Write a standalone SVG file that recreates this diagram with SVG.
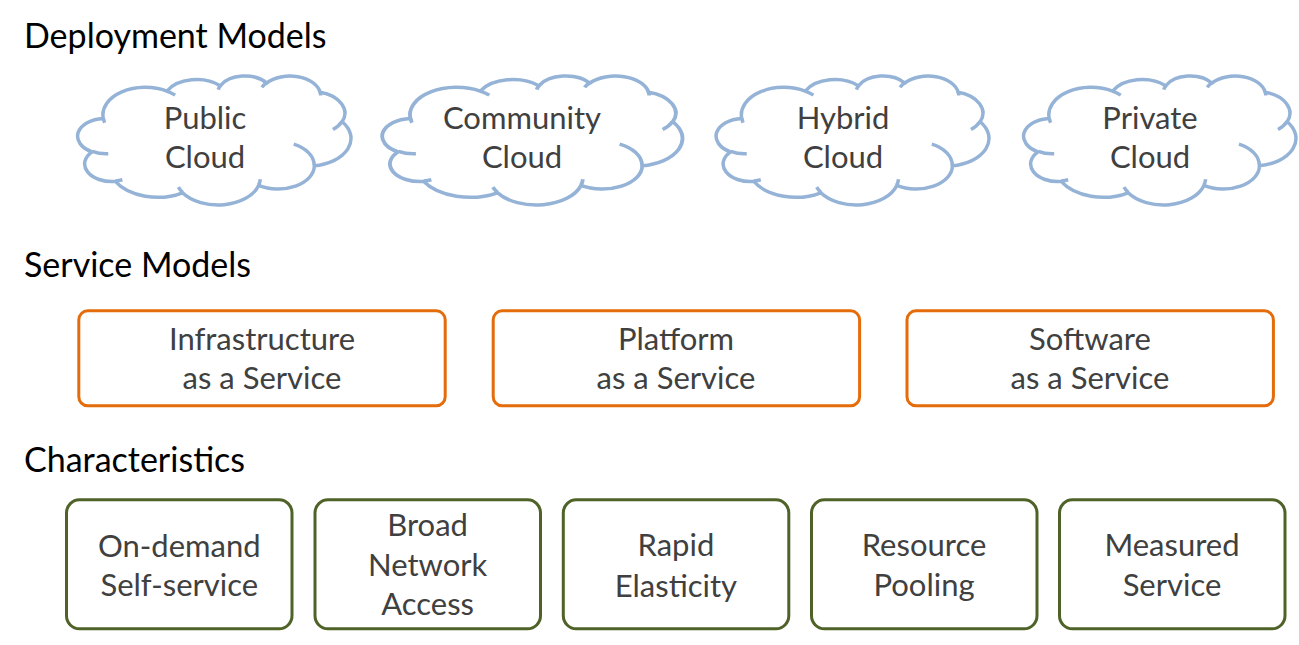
<svg xmlns="http://www.w3.org/2000/svg" xmlns:xlink="http://www.w3.org/1999/xlink" width="1299" height="645" viewBox="0 0 1299 645">
<style>
.title{font-family:Lato,"Open Sans","Liberation Sans",sans-serif;font-size:34px;fill:#000000}
.lbl{font-family:Lato,"Open Sans","Liberation Sans",sans-serif;font-size:31px;fill:#404040;text-anchor:middle}
.cloud{fill:#FFFFFF;stroke:#95B3D7;stroke-width:3.5}
.cloudIn{fill:none;stroke:#95B3D7;stroke-width:3.5}
.svc{fill:#FFFFFF;stroke:#E46C0A;stroke-width:3}
.chr{fill:#FFFFFF;stroke:#4F6228;stroke-width:3}
</style>
<defs>
<path id="cloudMain" d="M24.571 42.893A42.546 27.431 0 0 1 88.223 15.521A33.6 21.691 0 0 1 141.448 10.232A27.501 17.745 0 0 1 187.925 7.391A30.601 19.685 0 0 1 241.383 16.632A33.6 21.709 0 0 1 263.441 46.135A42.685 27.521 0 0 1 235.637 90.147A36.447 23.482 0 0 1 179.88 109.874A42.54 27.506 0 0 1 103.797 117.19A48.638 31.47 0 0 1 36.586 105.866A27.469 17.665 0 0 1 13.319 76.255A27.375 17.745 0 0 1 24.571 42.893Z"/>
<path id="cloudInner" d="M29.567 78.136A27.375 17.745 0 0 1 13.602 75.757M43.649 104.17A27.469 17.665 0 0 1 36.674 105.307M103.816 116.68A42.54 27.506 0 0 1 99.608 111.489M181.619 103.728A42.54 27.506 0 0 1 179.937 109.426M215.023 68.515A36.447 23.482 0 0 1 235.48 89.807M263.34 45.83A33.6 21.709 0 0 1 254.211 53.821M241.453 16.196A30.601 19.685 0 0 1 241.932 19.966M183.2 11.796A30.601 19.685 0 0 1 187.875 6.985M139.495 14.089A27.501 17.745 0 0 1 141.757 9.937M88.204 15.498A42.546 27.431 0 0 1 96.407 19.527M26.001 47.129A42.546 27.431 0 0 1 24.571 42.893"/>
</defs>

<g id="titles">
<text class="title" x="24" y="48">Deployment Models</text>
<text class="title" x="24" y="277">Service Models</text>
<text class="title" x="24" y="472">Characteristics</text>
</g>

<g id="connectors"></g>

<g id="public-cloud">
<g transform="translate(78.72 75.59)">
<use xlink:href="#cloudMain" class="cloud"/>
<use xlink:href="#cloudInner" class="cloudIn"/>
</g>
<text class="lbl" x="205" y="129">Public</text>
<text class="lbl" x="205" y="168">Cloud</text>
</g>

<g id="community-cloud">
<g transform="translate(383.44 75.59) scale(1.0983 1)">
<use xlink:href="#cloudMain" class="cloud"/>
<use xlink:href="#cloudInner" class="cloudIn"/>
</g>
<text class="lbl" x="522" y="129">Community</text>
<text class="lbl" x="522" y="168">Cloud</text>
</g>

<g id="hybrid-cloud">
<g transform="translate(717.22 75.59) scale(0.9982 1)">
<use xlink:href="#cloudMain" class="cloud"/>
<use xlink:href="#cloudInner" class="cloudIn"/>
</g>
<text class="lbl" x="843" y="129">Hybrid</text>
<text class="lbl" x="843" y="168">Cloud</text>
</g>

<g id="private-cloud">
<g transform="translate(1024.72 75.59) scale(0.9963 1)">
<use xlink:href="#cloudMain" class="cloud"/>
<use xlink:href="#cloudInner" class="cloudIn"/>
</g>
<text class="lbl" x="1150" y="129">Private</text>
<text class="lbl" x="1150" y="168">Cloud</text>
</g>

<g id="iaas">
<rect class="svc" x="78.8" y="310.8" width="366.4" height="95" rx="9"/>
<text class="lbl" x="262" y="350">Infrastructure</text>
<text class="lbl" x="262" y="389">as a Service</text>
</g>
<g id="paas">
<rect class="svc" x="493.2" y="310.8" width="366.4" height="95" rx="9"/>
<text class="lbl" x="676" y="350">Platform</text>
<text class="lbl" x="676" y="389">as a Service</text>
</g>
<g id="saas">
<rect class="svc" x="907" y="310.8" width="366.4" height="95" rx="9"/>
<text class="lbl" x="1090" y="350">Software</text>
<text class="lbl" x="1090" y="389">as a Service</text>
</g>

<g id="on-demand">
<rect class="chr" x="66.5" y="499.8" width="225.5" height="129" rx="13"/>
<text class="lbl" x="179.3" y="556.5">On-demand</text>
<text class="lbl" x="179.3" y="595.5">Self-service</text>
</g>
<g id="broad-network">
<rect class="chr" x="315" y="499.8" width="225.5" height="129" rx="13"/>
<text class="lbl" x="427.6" y="535.5">Broad</text>
<text class="lbl" x="427.6" y="575.5">Network</text>
<text class="lbl" x="427.6" y="615">Access</text>
</g>
<g id="rapid-elasticity">
<rect class="chr" x="563.3" y="499.8" width="225.5" height="129" rx="13"/>
<text class="lbl" x="675.9" y="556">Rapid</text>
<text class="lbl" x="675.9" y="596.5">Elasticity</text>
</g>
<g id="resource-pooling">
<rect class="chr" x="811.5" y="499.8" width="225.5" height="129" rx="13"/>
<text class="lbl" x="924" y="556">Resource</text>
<text class="lbl" x="924" y="595.5">Pooling</text>
</g>
<g id="measured-service">
<rect class="chr" x="1059.5" y="499.8" width="225.5" height="129" rx="13"/>
<text class="lbl" x="1172" y="556">Measured</text>
<text class="lbl" x="1172" y="595.5">Service</text>
</g>
</svg>
